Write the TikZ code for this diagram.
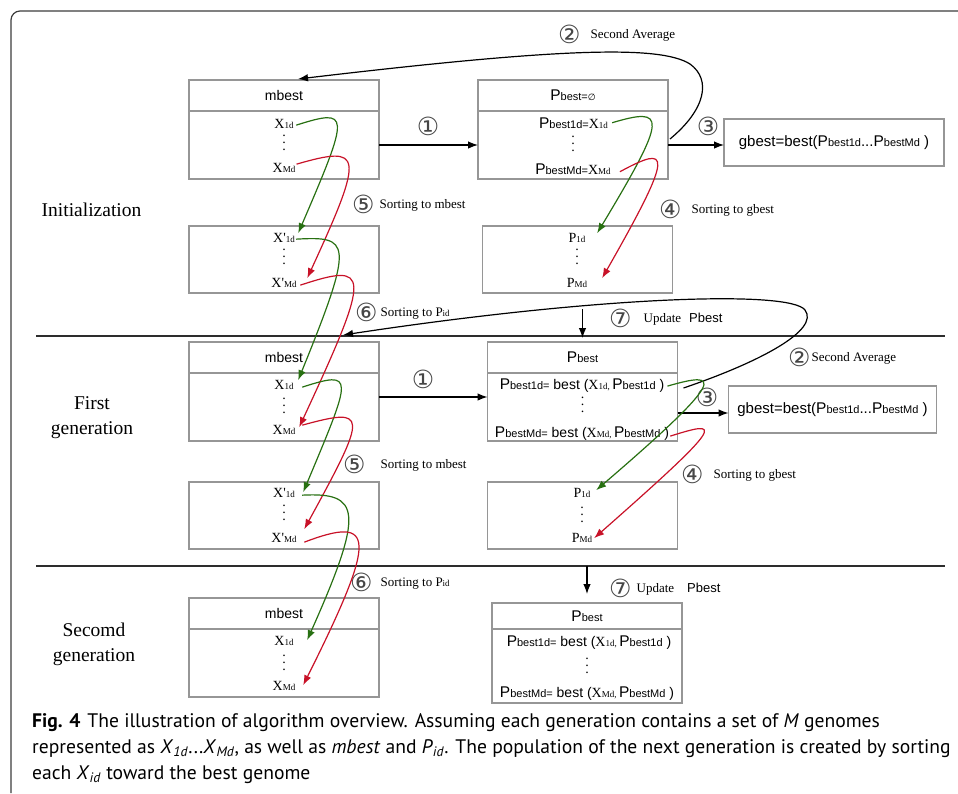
\documentclass[tikz,border=0pt]{standalone}
\usepackage{fontspec}
\setmainfont{Liberation Serif}
\setsansfont{Liberation Sans}
\newfontfamily\capfont{PT Sans}
\newfontfamily\numfont{DejaVu Sans}
\usetikzlibrary{positioning,arrows.meta}
\definecolor{boxgray}{RGB}{150,150,150}
\definecolor{rulegray}{RGB}{45,45,45}
\definecolor{framegray}{RGB}{60,60,60}
\definecolor{numgray}{RGB}{70,70,70}
\definecolor{sortgreen}{RGB}{40,112,18}
\definecolor{sortred}{RGB}{200,18,40}
\tikzset{head/.style={draw=boxgray,line width=1.3pt,minimum width=190pt,minimum height=31pt,outer sep=0pt,inner sep=0pt,font=\sffamily\fontsize{14}{14}\selectfont},
         body/.style={draw=boxgray,line width=1.3pt,minimum width=190pt,minimum height=68pt,outer sep=0pt},
         list/.style={body,minimum height=67pt},
         gbox/.style={draw=boxgray,line width=1.3pt,minimum height=47pt,outer sep=0pt,font=\sffamily\fontsize{15}{15}\selectfont},
         item/.style={inner sep=1pt,anchor=base},
         dotz/.style={inner sep=0pt,font=\fontsize{14}{14}\selectfont},
         num/.style={inner sep=0pt,text=numgray,font=\numfont\fontsize{25}{25}\selectfont},
         note/.style={anchor=west,inner sep=0pt,font=\fontsize{13}{13}\selectfont},
         phase/.style={align=center,font=\fontsize{19.5}{25}\selectfont},
         rule/.style={draw=rulegray,line width=1.5pt},
         capline/.style={anchor=base west,inner sep=0pt,font=\capfont\fontsize{19.6}{26}\selectfont}
}
\tikzstyle{arrow} = [line width=1.2pt,-{Latex[length=10pt,width=7.5pt]}]
\tikzstyle{gsort} = [arrow,draw=sortgreen]
\tikzstyle{rsort} = [arrow,draw=sortred]
% text pieces
\newcommand{\xv}[2]{{\rmfamily\fontsize{14}{14}\selectfont #1{\fontsize{9}{9}\selectfont #2}}}
\newcommand{\pv}[1]{{\sffamily\fontsize{15.5}{15}\selectfont P{\fontsize{11}{11}\selectfont best#1}}}
\newcommand{\sv}[1]{{\sffamily\fontsize{14}{14}\selectfont #1}}
\newcommand{\xq}{X\textquotesingle}
\newcommand{\vdotz}{\vbox{\baselineskip=7pt\lineskiplimit=0pt\hbox{.}\hbox{.}\hbox{.}}}
\newcommand{\stp}[3]{\raisebox{-5pt}{\numfont\color{numgray}\fontsize{25}{25}\selectfont #1}\hspace{#2}#3}

\begin{document}
\begin{tikzpicture}[x=1pt,y=-1pt]
\useasboundingbox (0,0) rectangle (958,793);

\draw[line width=1.2pt,draw=framegray,rounded corners=9pt] (11,793) -- (11,11) -- (958,11);
\draw[rule] (36,336) -- (945,336);
\draw[rule] (36,566) -- (945,566);

% initialization
\node[phase] (ph0) at (91.5,210) {Initialization};
\node[head] (mb0h) at (284,95.5) {mbest};
\node[body,below=0pt of mb0h] (mb0b) {};
\node[item] (mb0x1) at (284,128) {\xv{X}{1d}};
\node[dotz] (mb0d) at (284,143) {\vdotz};
\node[item] (mb0xm) at (284,172) {\xv{X}{Md}};
\node[head] (pb0h) at (573,95.5) {\pv{=}{\numfont\fontsize{9}{9}\selectfont ∅}};
\node[body,below=0pt of pb0h] (pb0b) {};
\node[item] (pb0l1) at (573.5,128) {\pv{1d=}\xv{X}{1d}};
\node[dotz] (pb0d) at (573,144) {\vdotz};
\node[item] (pb0lm) at (573,174) {\pv{Md=}\xv{X}{Md}};
\node[gbox,minimum width=220pt,right=56pt of pb0b,yshift=2.5pt] (g0) {gbest=best(\pv{1d}...\pv{Md}\ )};
\node[list,below=47pt of mb0b] (xp0) {};
\node[item] (xp0x1) at (284,242) {\xv{\xq}{1d}};
\node[dotz] (xp0d) at (284,257) {\vdotz};
\node[item] (xp0xm) at (284,287) {\xv{\xq}{Md}};
\node[list,below=47pt of pb0b,xshift=4.5pt] (pp0) {};
\node[item] (pp0p1) at (577,242) {\xv{P}{1d}};
\node[dotz] (pp0d) at (577,257) {\vdotz};
\node[item] (pp0pm) at (577,287) {\xv{P}{Md}};
\node[num] (n1a) at (428,126) {①};
\node[num] (n3a) at (708,126) {③};
\node[note] (n2a) at (558,34) {\stp{②}{10pt}{Second Average}};
\node[note] (n5a) at (352,204) {\stp{⑤}{5pt}{Sorting to mbest}};
\node[note] (n4a) at (659,209) {\stp{④}{10pt}{Sorting to gbest}};
\draw[arrow] (mb0b) -- (pb0b);
\draw[arrow] (pb0b.east) -- (pb0b.east -| g0.west);
\draw[arrow] ([shift={(2pt,6pt)}]pb0b.east) .. controls (705,110) and (712,80) .. (690,64)
  .. controls (660,45) and (560,48) .. ([shift={(14pt,1pt)}]mb0h.north);
\draw[gsort] ([shift={(1.4pt,-1.7pt)}]mb0x1.east) .. controls +(54,-17) and +(52,-121) .. ([shift={(2.2pt,4.3pt)}]xp0x1.east);
\draw[rsort] ([shift={(0pt,3.3pt)}]mb0xm.east) .. controls +(66,-19) and +(58,-126) .. ([shift={(9.5pt,4.3pt)}]xp0xm.east);
\draw[gsort] ([shift={(3pt,0pt)}]pb0l1.east) .. controls +(54,-16) and +(71,-118) .. ([shift={(10.6pt,4.3pt)}]pp0p1.east);
\draw[rsort] ([shift={(8pt,-3pt)}]pb0lm.east) .. controls +(50,-27) and +(73,-128) .. ([shift={(13.8pt,4.3pt)}]pp0pm.east);

% first generation
\node[phase] (ph1) at (92,418) {First\\generation};
\node[head] (mb1h) at (284,357.5) {mbest};
\node[body,below=0pt of mb1h] (mb1b) {};
\node[item] (mb1x1) at (284,389) {\xv{X}{1d}};
\node[dotz] (mb1d) at (284,406) {\vdotz};
\node[item] (mb1xm) at (284,434) {\xv{X}{Md}};
\node[head] (pb1h) at (582.5,357.5) {\pv{}};
\node[body,below=0pt of pb1h] (pb1b) {};
\node[item] (pb1l1) at (582,389) {\pv{1d=}\sv{\ best (}\xv{X}{1d,}\ \pv{1d}\sv{\ )}};
\node[dotz] (pb1d) at (582.5,405) {\vdotz};
\node[item] (pb1lm) at (582,437) {\pv{Md=}\sv{\ best (}\xv{X}{Md,}\ \pv{Md}\sv{\ )}};
\node[gbox,minimum width=208pt,right=51pt of pb1b,yshift=-2.5pt] (g1) {gbest=best(\pv{1d}...\pv{Md}\ )};
\node[list,below=41pt of mb1b] (xp1) {};
\node[item] (xp1x1) at (284,497) {\xv{\xq}{1d}};
\node[dotz] (xp1d) at (284,513) {\vdotz};
\node[item] (xp1xm) at (284,542) {\xv{\xq}{Md}};
\node[list,below=41pt of pb1b] (pp1) {};
\node[item] (pp1p1) at (582,497) {\xv{P}{1d}};
\node[dotz] (pp1d) at (582,515) {\vdotz};
\node[item] (pp1pm) at (582,542) {\xv{P}{Md}};
\node[note] (n6a) at (355,312) {\stp{⑥}{3pt}{Sorting to P{\fontsize{9}{9}\selectfont id}}};
\node[note] (n7a) at (609,318) {\stp{⑦}{12pt}{Update\hspace{8pt}\sv{\fontsize{13}{13}\selectfont Pbest}}};
\node[note] (n2b) at (788,357) {\stp{②}{1pt}{Second Average}};
\node[num] (n1b) at (423,379) {①};
\node[num] (n3b) at (707,397) {③};
\node[note] (n5b) at (343,464) {\stp{⑤}{15pt}{Sorting to mbest}};
\node[note] (n4b) at (681,474) {\stp{④}{10pt}{Sorting to gbest}};
\coordinate (u1) at (582.5,309);
\draw[arrow] (u1) -- ([yshift=4pt]pb1h.north);
\draw[arrow] ([yshift=10pt]mb1b.east) -- ([yshift=10pt]pb1b.west);
\draw[arrow] ([yshift=-6pt]pb1b.east) -- ([yshift=-6pt]pb1b.east -| g1.west);
\draw[arrow] ([shift={(6pt,19pt)}]pb1b.east) .. controls (760,362) and (820,330) .. (805,310)
  .. controls (790,290) and (600,296) .. ([shift={(59pt,7pt)}]mb1h.north);
\draw[gsort] ([shift={(0pt,-1.7pt)}]xp0x1.east) .. controls +(54,-3) and +(57,-140) .. ([shift={(3.4pt,4.3pt)}]mb1x1.east);
\draw[rsort] ([shift={(2.5pt,-2.7pt)}]xp0xm.east) .. controls +(70,-23) and +(73,-157) .. ([shift={(2.7pt,2.3pt)}]mb1xm.east);
\draw[gsort] ([shift={(7.4pt,-2.7pt)}]mb1x1.east) .. controls +(53,-17) and +(49,-117) .. ([shift={(7.2pt,0.3pt)}]xp1x1.east);
\draw[rsort] ([shift={(5.7pt,4.3pt)}]mb1xm.east) .. controls +(66,-18) and +(64,-117) .. ([shift={(6.5pt,8.3pt)}]xp1xm.east);
\draw[gsort] ([shift={(2pt,-1pt)}]pb1l1.east) .. controls +(52,-15) and +(134,-115) .. ([shift={(4.6pt,2.3pt)}]pp1p1.east);
\draw[rsort] ([shift={(0pt,-3pt)}]pb1lm.east) .. controls +(51,-16) and +(134,-118) .. ([shift={(0.8pt,-0.7pt)}]pp1pm.east);

% second generation
\node[phase] (ph2) at (94,644) {Secomd\\generation};
\node[head] (mb2h) at (284,613.5) {mbest};
\node[body,below=0pt of mb2h] (mb2b) {};
\node[item] (mb2x1) at (284,645) {\xv{X}{1d}};
\node[dotz] (mb2d) at (284,663) {\vdotz};
\node[item] (mb2xm) at (284,690) {\xv{X}{Md}};
\node[head,minimum height=26pt] (pb2h) at (587,616) {\pv{}};
\node[body,minimum height=74pt,below=0pt of pb2h] (pb2b) {};
\node[item] (pb2l1) at (589,646) {\pv{1d=}\sv{\ best (}\xv{X}{1d,}\ \pv{1d}\sv{\ )}};
\node[dotz] (pb2d) at (587,666) {\vdotz};
\node[item] (pb2lm) at (587,697) {\pv{Md=}\sv{\ best (}\xv{X}{Md,}\ \pv{Md}\sv{\ )}};
\node[note] (n6b) at (350,582) {\stp{⑥}{8pt}{Sorting to P{\fontsize{9}{9}\selectfont id}}};
\node[note] (n7b) at (609,588) {\stp{⑦}{5pt}{Update\hspace{13pt}\sv{\fontsize{13}{13}\selectfont Pbest}}};
\coordinate (u2) at (587,566);
\draw[arrow] (u2) -- ([yshift=9pt]pb2h.north);
\draw[gsort] ([shift={(6.2pt,-2.7pt)}]xp1x1.east) .. controls +(58,-3) and +(58,-130) .. ([shift={(12.4pt,0.3pt)}]mb2x1.east);
\draw[rsort] ([shift={(6.5pt,-4.7pt)}]xp1xm.east) .. controls +(71,-27) and +(75,-150) .. ([shift={(6.7pt,0.3pt)}]mb2xm.east);

% caption
\node[capline] (cap1) at (32,727) {\textbf{Fig. 4}\hspace{7pt}The illustration of algorithm overview. Assuming each generation contains a set of \textit{M} genomes};
\node[capline] (cap2) at (32,753) {represented as \textit{X}\textsubscript{\textit{1d}}...\textit{X}\textsubscript{\textit{Md}}, as well as \textit{mbest} and \textit{P}\textsubscript{\textit{id}}. The population of the next generation is created by sorting};
\node[capline] (cap3) at (32,779) {each \textit{X}\textsubscript{\textit{id}} toward the best genome};
\end{tikzpicture}
\end{document}
